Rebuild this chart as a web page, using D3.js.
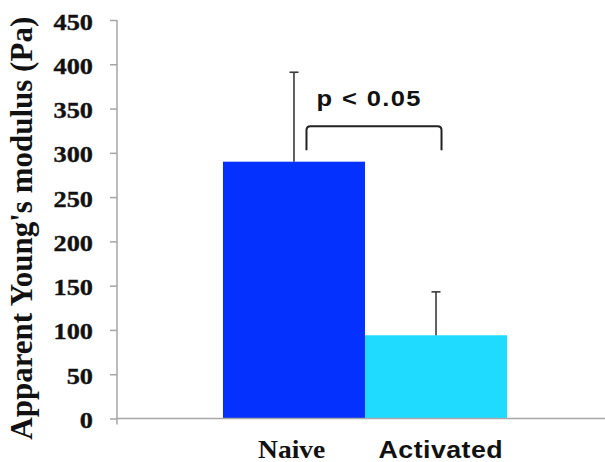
<!DOCTYPE html>
<html>
<head>
<meta charset="utf-8">
<script src="https://cdn.jsdelivr.net/npm/d3@7"></script>
<style>
  html, body { margin: 0; padding: 0; background: #fff; }
  svg { display: block; }
</style>
</head>
<body>
<svg id="chart" width="605" height="462"></svg>
<script>
// Group labels, mean stiffness and error (SD) per group
const groups = ["Naive", "Activated"];
const means = [290, 94];
const errors = [101, 49];
const barColors = ["#0531ff", "#1edbff"];
const yTicks = [0, 50, 100, 150, 200, 250, 300, 350, 400, 450];

// Significance bracket (values in Pa)
const sigLabel = "p < 0.05";
const bracketLevels = [303, 330];
const sigTextLevel = 353;

const svg = d3.select("#chart");

const x = d3.scaleBand()
  .domain(groups)
  .range([117, 613])
  .paddingInner(0)
  .paddingOuter(0.746);

const y = d3.scaleLinear()
  .domain([0, 450])
  .range([418.5, 20]);

const serif = "'Liberation Serif', 'Times New Roman', serif";
const sans = "'Liberation Sans', Arial, sans-serif";

// Bars
svg.selectAll("rect.bar")
  .data(groups)
  .join("rect")
  .attr("class", "bar")
  .attr("x", d => x(d))
  .attr("width", x.bandwidth())
  .attr("y", (d, i) => y(means[i]))
  .attr("height", (d, i) => y(0) - y(means[i]))
  .attr("fill", (d, i) => barColors[i]);

// Error bars (upper only)
const eb = svg.append("g").attr("stroke", "#3a3a3a").attr("stroke-width", 1.6);
groups.forEach((g, i) => {
  const cx = x(g) + x.bandwidth() / 2;
  eb.append("line")
    .attr("x1", cx).attr("x2", cx)
    .attr("y1", y(means[i])).attr("y2", y(means[i] + errors[i]));
  eb.append("line")
    .attr("x1", cx - 4.5).attr("x2", cx + 4.5)
    .attr("y1", y(means[i] + errors[i])).attr("y2", y(means[i] + errors[i]));
});

// Y axis
const yAxis = d3.axisLeft(y).tickValues(yTicks).tickSize(7).tickFormat(() => "");
const yg = svg.append("g").attr("transform", "translate(117,0)").call(yAxis);
yg.select(".domain").remove();
yg.selectAll(".tick line").attr("stroke", "#a6a6a6").attr("stroke-width", 1.5);

// Tick labels, slightly widened serif digits
svg.append("g").selectAll("text")
  .data(yTicks)
  .join("text")
  .attr("transform", d => `translate(93,${y(d) + 9.5}) scale(1.12,1)`)
  .attr("text-anchor", "end")
  .attr("fill", "#111")
  .attr("stroke", "#111")
  .attr("stroke-width", 0.35)
  .style("font-family", serif)
  .style("font-weight", "bold")
  .style("font-size", "23.5px")
  .text(d => d);

// Axis lines
svg.append("line")
  .attr("x1", 117).attr("x2", 117)
  .attr("y1", y(450)).attr("y2", y(0) + 6)
  .attr("stroke", "#a6a6a6").attr("stroke-width", 1.5);
svg.append("line")
  .attr("x1", 117).attr("x2", 605)
  .attr("y1", y(0)).attr("y2", y(0))
  .attr("stroke", "#a6a6a6").attr("stroke-width", 1.5);

// Y axis title
svg.append("text")
  .attr("transform", `translate(32,${(y(0) + y(450)) / 2 + 9}) rotate(-90)`)
  .attr("text-anchor", "middle")
  .attr("fill", "#111")
  .style("font-family", serif)
  .style("font-weight", "bold")
  .style("font-size", "31px")
  .text("Apparent Young's modulus (Pa)");

// Category labels
svg.append("text")
  .attr("transform", `translate(${x("Naive") + x.bandwidth() / 2 - 2.3},457.5) scale(1.1,1)`)
  .attr("text-anchor", "middle")
  .attr("fill", "#111")
  .style("font-family", serif)
  .style("font-weight", "bold")
  .style("font-size", "25px")
  .text(groups[0]);
svg.append("text")
  .attr("transform", `translate(${x("Activated") + x.bandwidth() / 2 + 4.8},457.5) scale(1.14,1)`)
  .attr("text-anchor", "middle")
  .attr("fill", "#111")
  .style("font-family", sans)
  .style("font-weight", "bold")
  .style("font-size", "23.5px")
  .style("letter-spacing", "0.4px")
  .text(groups[1]);

// Significance bracket
const bx0 = x("Naive") + x.bandwidth() / 2 + 12.5;
const bx1 = x("Activated") + x.bandwidth() / 2 + 5.5;
const by0 = y(bracketLevels[0]);
const by1 = y(bracketLevels[1]);
const r = 4;
svg.append("path")
  .attr("d", `M${bx0},${by0} L${bx0},${by1 + r} Q${bx0},${by1} ${bx0 + r},${by1} L${bx1 - r},${by1} Q${bx1},${by1} ${bx1},${by1 + r} L${bx1},${by0}`)
  .attr("fill", "none")
  .attr("stroke", "#222")
  .attr("stroke-width", 2);

svg.append("text")
  .attr("transform", `translate(${bx0 + 10},${y(sigTextLevel)}) scale(1.16,1)`)
  .attr("fill", "#111")
  .style("font-family", sans)
  .style("font-weight", "bold")
  .style("font-size", "22px")
  .style("letter-spacing", "1.2px")
  .text(sigLabel);
</script>
</body>
</html>
